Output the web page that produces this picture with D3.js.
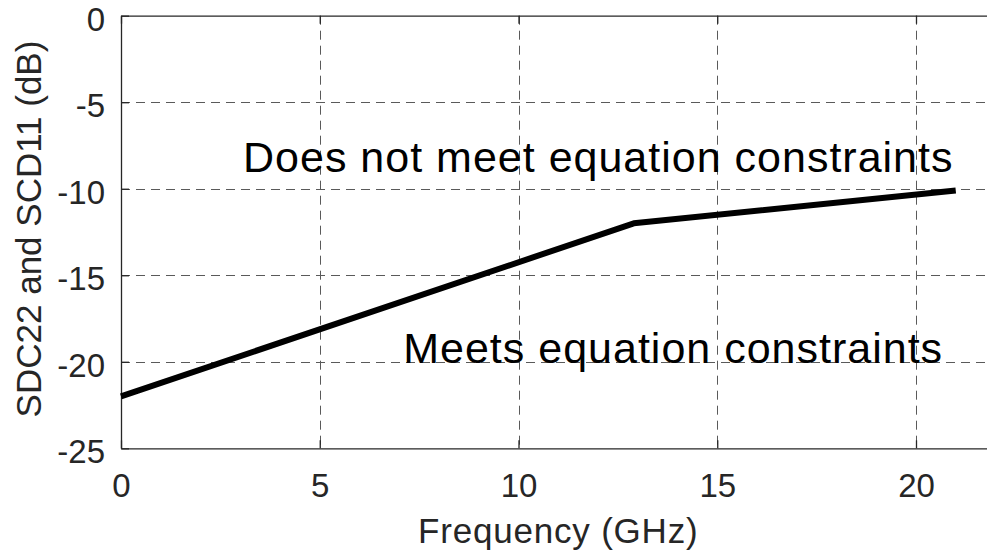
<!DOCTYPE html>
<html>
<head>
<meta charset="utf-8">
<script src="https://cdn.jsdelivr.net/npm/d3@7"></script>
<style>
  html, body { margin: 0; padding: 0; background: #fff; overflow: hidden; }
  svg { display: block; font-family: "Liberation Sans", Arial, Helvetica, sans-serif; }
</style>
</head>
<body>
<svg id="chart" width="987" height="556"></svg>
<script>
// ---- data ----
const freqGHz = [0, 12.9, 21];
const sddLimit = [-22, -12, -10.1];
const xTicks = [0, 5, 10, 15, 20];
const yTicks = [-25, -20, -15, -10, -5, 0];
const xTickLabels = ["0", "5", "10", "15", "20"];
const yTickLabels = ["-25", "-20", "-15", "-10", "-5", "0"];
const xDomain = [0, 22];
const yDomain = [-25, 0];
const xLabel = "Frequency (GHz)";
const yLabel = "SDC22 and SCD11 (dB)";
const annotTexts = ["Does not meet equation constraints", "Meets equation constraints"];
const annotX = [3.07, 7.1];
const annotY = [-9.02, -20.06];

(function () {
// ---- layout ----
const padL = 121, padT = 15.7, padB = 448.3, pxPerUnit = 39.75;
const padR = padL + (xDomain[1] - xDomain[0]) * pxPerUnit;
const axisColor = "#262626";

const svg = d3.select("#chart");
const x = d3.scaleLinear().domain(xDomain).range([padL, padR]);
const y = d3.scaleLinear().domain(yDomain).range([padB, padT]);

// grid
const grid = svg.append("g").attr("stroke", "#5a5a5a").attr("stroke-width", 1)
  .attr("stroke-dasharray", "9,6").attr("fill", "none");
grid.selectAll("line.gx").data(xTicks.filter(d => d > xDomain[0]))
  .join("line").attr("class", "gx")
  .attr("x1", d => Math.round(x(d)) + 0.5).attr("x2", d => Math.round(x(d)) + 0.5)
  .attr("y1", y(yDomain[1])).attr("y2", y(yDomain[0]));
grid.selectAll("line.gy").data(yTicks.filter(d => d > yDomain[0] && d < yDomain[1]))
  .join("line").attr("class", "gy")
  .attr("y1", d => Math.round(y(d)) + 0.5).attr("y2", d => Math.round(y(d)) + 0.5)
  .attr("x1", x(xDomain[0])).attr("x2", x(xDomain[1]));

// axes
const xAxis = d3.axisBottom(x).tickValues(xTicks).tickSizeInner(-8).tickSizeOuter(0)
  .tickFormat((d, i) => xTickLabels[i]);
const gx = svg.append("g").attr("transform", `translate(0,${padB})`).call(xAxis);
gx.select(".domain").attr("stroke", axisColor).attr("stroke-width", 1.3);
gx.selectAll(".tick line").attr("stroke", axisColor).attr("stroke-width", 1.3);
gx.selectAll(".tick text").attr("font-size", 33).attr("fill", axisColor)
  .attr("font-family", "'Liberation Sans', Arial, sans-serif").attr("dy", "0.71em").attr("y", 25);

const xAxisTop = d3.axisTop(x).tickValues(xTicks).tickSizeInner(-8).tickSizeOuter(0).tickFormat("");
const gxt = svg.append("g").attr("transform", `translate(0,${padT})`).call(xAxisTop);
gxt.select(".domain").attr("stroke", axisColor).attr("stroke-width", 1.3);
gxt.selectAll(".tick line").attr("stroke", axisColor).attr("stroke-width", 1.3);

const yAxis = d3.axisLeft(y).tickValues(yTicks).tickSizeInner(-8).tickSizeOuter(0)
  .tickFormat((d, i) => yTickLabels[i]);
const gy = svg.append("g").attr("transform", `translate(${padL},0)`).call(yAxis);
gy.select(".domain").attr("stroke", axisColor).attr("stroke-width", 1.3);
gy.selectAll(".tick line").attr("stroke", axisColor).attr("stroke-width", 1.3);
gy.selectAll(".tick text").attr("font-size", 33).attr("fill", axisColor)
  .attr("font-family", "'Liberation Sans', Arial, sans-serif")
  .attr("x", -16).attr("dy", "0.44em");

// data line
const line = d3.line().x(d => x(d[0])).y(d => y(d[1]));
svg.append("path")
  .datum(freqGHz.map((f, i) => [f, sddLimit[i]]))
  .attr("d", line)
  .attr("fill", "none").attr("stroke", "#000").attr("stroke-width", 6)
  .attr("stroke-linejoin", "round");

// annotations
svg.selectAll("text.annot").data(annotTexts).join("text")
  .attr("class", "annot")
  .attr("x", (d, i) => x(annotX[i])).attr("y", (d, i) => y(annotY[i]))
  .attr("font-size", 43).attr("letter-spacing", "1px").attr("fill", "#000")
  .text(d => d);

// axis labels
svg.append("text")
  .attr("x", (padL + padR) / 2).attr("y", 543)
  .attr("text-anchor", "middle").attr("font-size", 35).attr("letter-spacing", "0.8px")
  .attr("fill", axisColor).text(xLabel);

svg.append("text")
  .attr("transform", `translate(41,${(padT + padB) / 2 - 3}) rotate(-90)`)
  .attr("text-anchor", "middle").attr("font-size", 35)
  .attr("fill", axisColor).text(yLabel);
})();
</script>
</body>
</html>
